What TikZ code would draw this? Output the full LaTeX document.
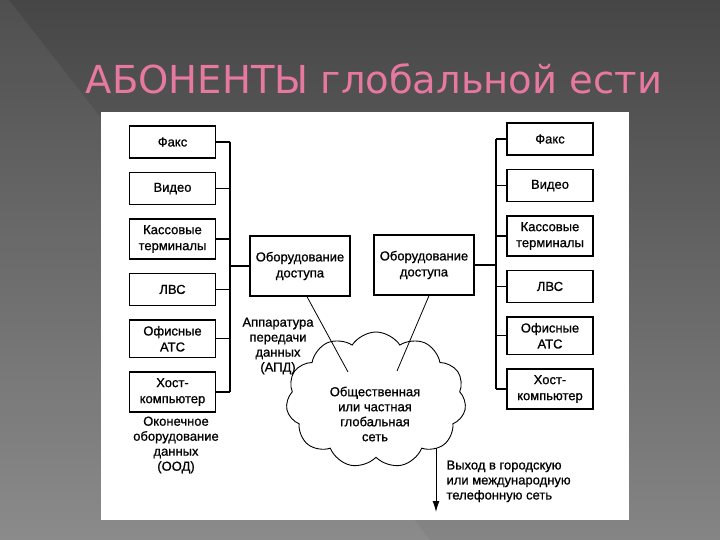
\documentclass[tikz,border=0pt]{standalone}
\usepackage{fontspec}
\setmainfont{Liberation Sans}
\newfontfamily\diafont{Liberation Sans}[FakeBold=0.8]
\newfontfamily\titlefont{DejaVu Sans}
\usepackage{xcolor}
\usetikzlibrary{arrows.meta,positioning,shapes.symbols}
\definecolor{titlepink}{HTML}{E7789F}
\definecolor{bgdark}{HTML}{464646}
\definecolor{bglight}{HTML}{858585}

\begin{document}
\begin{tikzpicture}[
x=1pt, y=-1pt,
node distance=13.2pt,
font=\diafont\fontsize{13}{16}\selectfont,
box/.style={draw, line width=1.4pt, align=center, minimum width=86pt, minimum height=32pt, inner sep=6pt},
accbox/.style={draw, line width=1.4pt, align=center, minimum width=100pt, minimum height=60pt},
lbl/.style={align=center, font=\diafont\fontsize{13}{15}\selectfont},
link/.style={line width=1.2pt},
thinlink/.style={line width=0.8pt},
arr/.style={-{Latex[length=11pt,width=7pt]}, line width=1pt}
]
\useasboundingbox (0,0) rectangle (720,540);
% background and white sheet
\shade[top color=bgdark, bottom color=bglight] (0,0) rectangle (720,540);
\fill[white, opacity=0.05] (0,0) -- (9,0) -- (430,540) -- (0,540) -- cycle;
\fill[white] (101,112) rectangle (629,520);

\node[font=\titlefont\fontsize{38.5}{40}\selectfont, text=titlepink] (title) at (374,79) {АБОНЕНТЫ глобальной ести};

% left side
\node[box] (faxL) at (172.5,142) {Факс};
\node[box, below=of faxL] (videoL) {Видео};
\node[box, below=of videoL] (posL) {Кассовые\\терминалы};
\node[box, below=of posL] (lanL) {ЛВС};
\node[box, below=of lanL] (pbxL) {Офисные\\АТС};
\node[box, below=of pbxL] (hostL) {Хост-\\компьютер};
\node[lbl] (ood) at (176,445) {Оконечное\\оборудование\\данных\\(ООД)};

% right side
\node[box] (faxR) at (550,139) {Факс};
\node[box, below=of faxR] (videoR) {Видео};
\node[box, below=of videoR] (posR) {Кассовые\\терминалы};
\node[box, below=of posR] (lanR) {ЛВС};
\node[box, below=of lanR] (pbxR) {Офисные\\АТС};
\node[box, below=of pbxR] (hostR) {Хост-\\компьютер};

% access equipment
\node[accbox] (accL) at (300,266) {Оборудование\\доступа};
\node[accbox] (accR) at (424,265) {Оборудование\\доступа};

% network
\node[cloud, draw, line width=0.9pt, cloud puffs=11, cloud puff arc=115, aspect=1.3,
  minimum width=180pt, minimum height=136pt, inner sep=0pt] (net) at (376,400) {};
\node[lbl] (netlbl) at (375,414) {Общественная\\или частная\\глобальная\\сеть};
\node[lbl] (apd) at (278,346) {Аппаратура\\передачи\\данных\\(АПД)};

% buses
\coordinate (busL) at (230,0);
\coordinate (busR) at (496,0);
\foreach \n in {faxL,videoL,posL,lanL,pbxL,hostL}
  \draw[link] (\n.east) -- (\n.east -| busL);
\foreach \n in {faxR,videoR,posR,lanR,pbxR,hostR}
  \draw[link] (\n.west) -- (\n.west -| busR);
\draw[link] (faxL.east -| busL) -- (hostL.east -| busL);
\draw[link] (faxR.west -| busR) -- (hostR.west -| busR);
\draw[link] (busL |- accL.west) -- (accL.west);
\draw[link] (accR.east) -- (accR.east -| busR);

% lines into the cloud
\coordinate (apdL) at (348,372);
\coordinate (apdR) at (397,371);
\draw[thinlink] ([xshift=7pt]accL.south) -- (apdL);
\draw[thinlink] ([xshift=5pt]accR.south) -- (apdR);

% exit
\coordinate (exitA) at (436,448);
\coordinate (exitB) at (436,512);
\draw[arr] (exitA) -- (exitB);
\node[lbl, align=left, anchor=north west] (exitlbl) at (443,457) {Выход в городскую\\или международную\\телефонную сеть};
\end{tikzpicture}
\end{document}
